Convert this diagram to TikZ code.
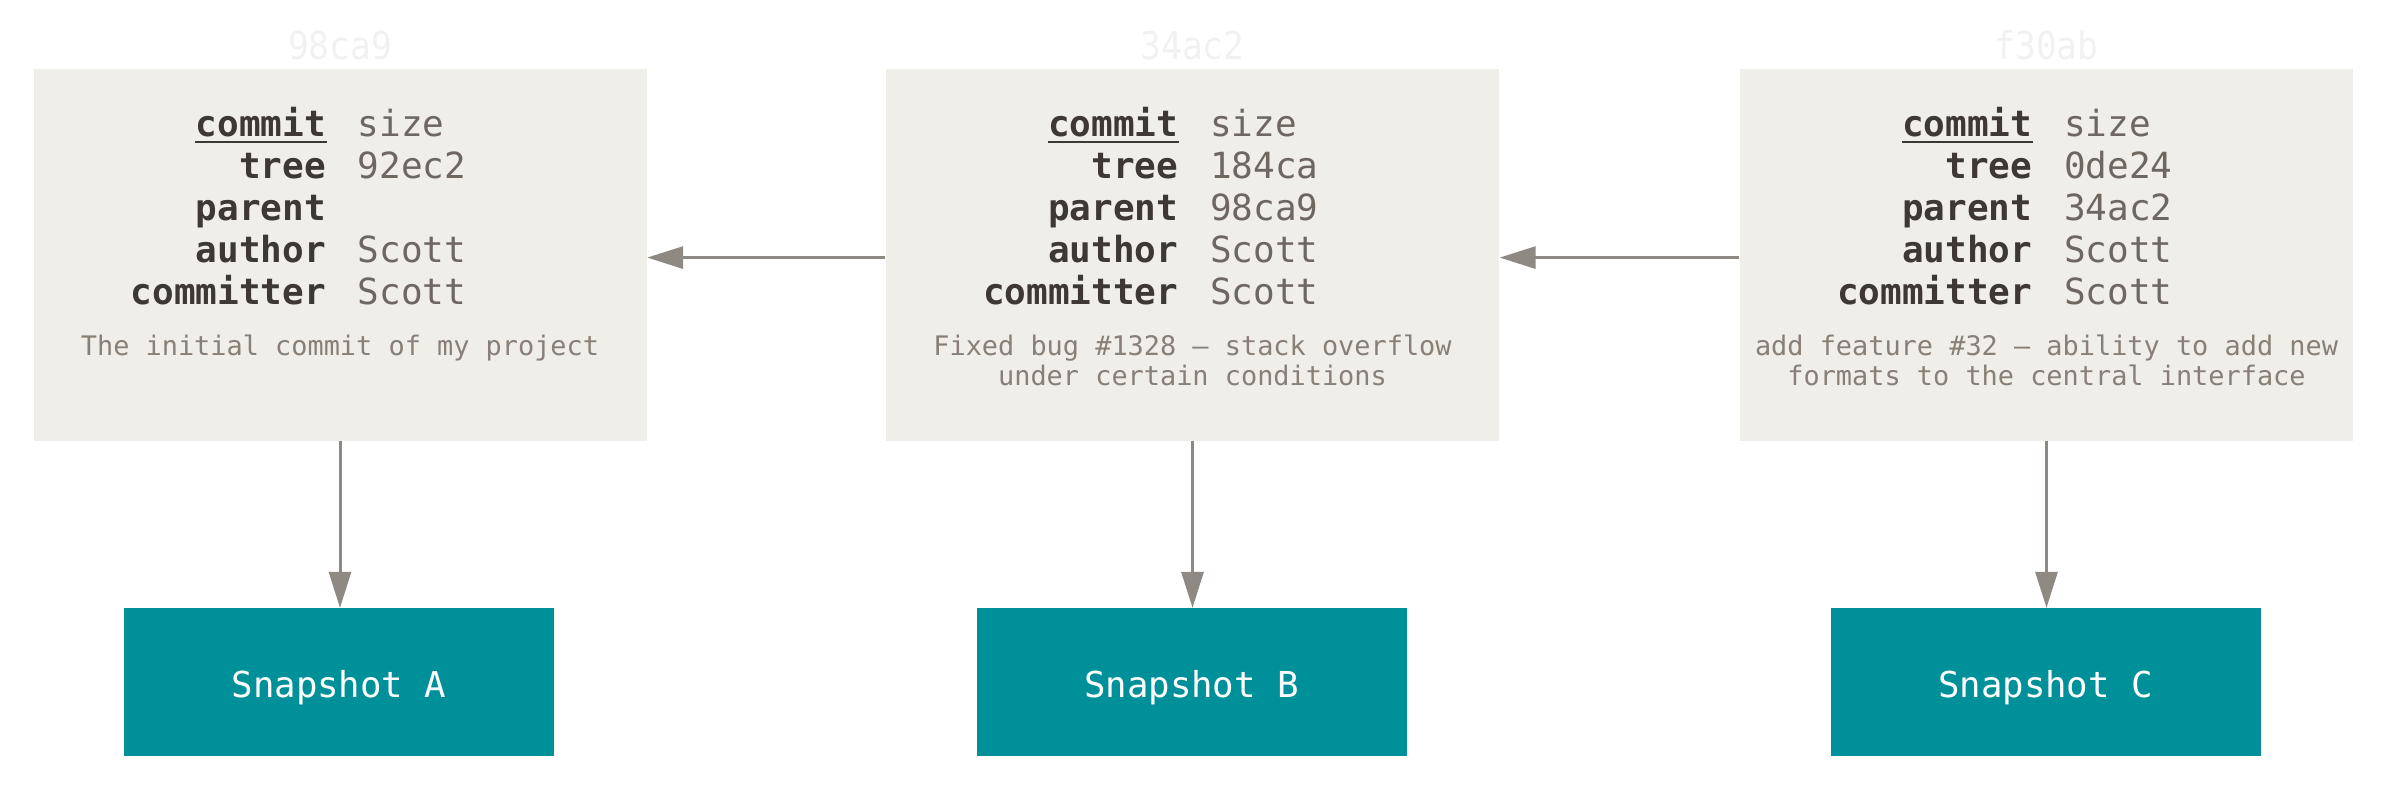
\documentclass[tikz,border=0pt]{standalone}
\usepackage{fontspec}
\setmonofont{DejaVu Sans Mono}
\usetikzlibrary{arrows.meta}
\definecolor{boxbg}{HTML}{EFEEE8}
\definecolor{arrowc}{HTML}{8E8983}
\definecolor{snap}{HTML}{00909A}
\definecolor{lab}{HTML}{3E3833}
\definecolor{val}{HTML}{6E6760}
\definecolor{desc}{HTML}{888077}
\definecolor{ttl}{HTML}{F1F1F1}
\tikzset{
  commitbox/.style={fill=boxbg, draw=none, minimum width=183.9pt, minimum height=111.6pt, inner sep=0pt},
  snapbox/.style={fill=snap, draw=none, minimum width=129pt, minimum height=44.4pt, inner sep=0pt, text=white, font=\ttfamily\fontsize{10.7}{12}\selectfont},
  lbl/.style={anchor=base east, inner sep=0pt, text=lab, font=\ttfamily\bfseries\fontsize{10.8}{12}\selectfont},
  vl/.style={anchor=base west, inner sep=0pt, text=val, font=\ttfamily\fontsize{10.8}{12}\selectfont},
  dsc/.style={anchor=base, inner sep=0pt, text=desc, font=\ttfamily\fontsize{8.07}{8.7}\selectfont},
  ttlstyle/.style={anchor=base, inner sep=0pt, text=ttl, font=\ttfamily\fontsize{11.5}{12}\selectfont},
  conn/.style={draw=arrowc, line width=0.9pt, -{Triangle[length=10.8pt,width=6.6pt]}}
}
\newcommand\commitinfo[6]{%
  \node[lbl] (#1-kc) at ({#2-13.5},137) {commit};
  \draw[lab, line width=0.6pt] ([yshift=-1.4pt]#1-kc.base west) -- ([yshift=-1.4pt]#1-kc.base east);
  \node[vl] (#1-vc) at ({#2+17},137) {size};
  \node[lbl] (#1-kt) at ({#2-13.5},179) {tree};
  \node[vl] (#1-vt) at ({#2+17},179) {#3};
  \node[lbl] (#1-kp) at ({#2-13.5},221) {parent};
  \node[vl] (#1-vp) at ({#2+17},221) {#4};
  \node[lbl] (#1-ka) at ({#2-13.5},263) {author};
  \node[vl] (#1-va) at ({#2+17},263) {Scott};
  \node[lbl] (#1-km) at ({#2-13.5},305) {committer};
  \node[vl] (#1-vm) at ({#2+17},305) {Scott};
  \node[dsc] (#1-d1) at (#2,356) {#5};
  \node[dsc] (#1-d2) at (#2,386) {#6};
}
\begin{document}
\begin{tikzpicture}[x=0.3pt, y=-0.3pt]
\useasboundingbox (0,0) rectangle (2391,792);
\node[commitbox] (c1) at (340,254.6) {};
\node[commitbox] (c2) at (1192.5,254.6) {};
\node[commitbox] (c3) at (2046.5,254.6) {};
\node[ttlstyle] (t1) at (340,60) {\scalebox{0.9}[1]{98ca9}};
\node[ttlstyle] (t2) at (1192.5,60) {\scalebox{0.9}[1]{34ac2}};
\node[ttlstyle] (t3) at (2046.5,60) {\scalebox{0.9}[1]{f30ab}};
\commitinfo{c1}{340}{92ec2}{}{The initial commit of my project}{}
\commitinfo{c2}{1192.5}{184ca}{98ca9}{Fixed bug \#1328 – stack overflow}{under certain conditions}
\commitinfo{c3}{2046.5}{0de24}{34ac2}{add feature \#32 – ability to add new}{formats to the central interface}
\node[snapbox] (s1) at (339,682.5) {\raisebox{-4.4pt}[0pt][0pt]{Snapshot A}};
\node[snapbox] (s2) at (1191.5,682.5) {\raisebox{-4.4pt}[0pt][0pt]{Snapshot B}};
\node[snapbox] (s3) at (2045.5,682.5) {\raisebox{-4.4pt}[0pt][0pt]{Snapshot C}};
\draw[conn] ([yshift=-0.9pt]c2.west) -- ([yshift=-0.9pt]c1.east);
\draw[conn] ([yshift=-0.9pt]c3.west) -- ([yshift=-0.9pt]c2.east);
\draw[conn] (c1.south) -- (c1.south |- s1.north);
\draw[conn] (c2.south) -- (c2.south |- s2.north);
\draw[conn] (c3.south) -- (c3.south |- s3.north);
\end{tikzpicture}
\end{document}
